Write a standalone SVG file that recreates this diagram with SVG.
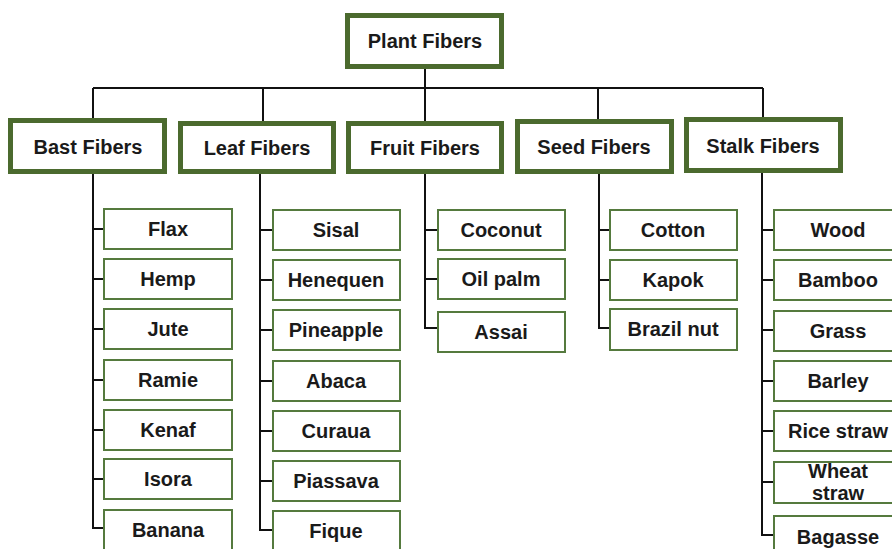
<svg xmlns="http://www.w3.org/2000/svg" width="892" height="549" viewBox="0 0 892 549">
<style>
.cat{fill:#fff;stroke:#4B6A2E;stroke-width:5}
.leaf{fill:#fff;stroke:#557A3E;stroke-width:2}
text{font-family:"Liberation Sans",Arial,sans-serif;font-weight:bold;font-size:20px;fill:#1a1a1a;text-anchor:middle}
.ln{fill:none;stroke:#111;stroke-width:2}
</style>
<rect width="892" height="549" fill="#fff"/>
<g id="connectors" class="ln">
<path d="M93,88H763M425,69V121M93,88V118M263,88V121M598,88V119M763,88V117"/>
<path d="M93,174V528H103M93,229H103M93,279H103M93,329H103M93,380H103M93,430H103M93,479H103"/>
<path d="M260,174V530H272M260,230H272M260,280H272M260,330H272M260,381H272M260,431H272M260,481H272"/>
<path d="M425,174V328H437M425,230H437M425,279H437"/>
<path d="M599,174V328H609M599,230H609M599,280H609"/>
<path d="M762,173V535H773M762,230H773M762,280H773M762,330H773M762,381H773M762,431H773M762,482H773"/>
</g>
<g id="plant"><rect class="cat" x="347.5" y="15.5" width="154" height="51"/><text x="425" y="48">Plant Fibers</text></g>
<g id="bast"><rect class="cat" x="10.5" y="120.5" width="154" height="51"/><text x="88" y="154">Bast Fibers</text></g>
<g id="leafcat"><rect class="cat" x="180.5" y="123.5" width="153" height="48"/><text x="257" y="155">Leaf Fibers</text></g>
<g id="fruit"><rect class="cat" x="348.5" y="123.5" width="153" height="48"/><text x="425" y="155">Fruit Fibers</text></g>
<g id="seed"><rect class="cat" x="517.5" y="121.5" width="154" height="50"/><text x="594" y="154">Seed Fibers</text></g>
<g id="stalk"><rect class="cat" x="686.5" y="119.5" width="154" height="51"/><text x="763" y="153">Stalk Fibers</text></g>

<g id="flax"><rect class="leaf" x="104" y="209" width="128" height="40"/><text x="168" y="236">Flax</text></g>
<g id="hemp"><rect class="leaf" x="104" y="259" width="128" height="40"/><text x="168" y="286">Hemp</text></g>
<g id="jute"><rect class="leaf" x="104" y="309" width="128" height="40"/><text x="168" y="336">Jute</text></g>
<g id="ramie"><rect class="leaf" x="104" y="360" width="128" height="40"/><text x="168" y="387">Ramie</text></g>
<g id="kenaf"><rect class="leaf" x="104" y="410" width="128" height="40"/><text x="168" y="437">Kenaf</text></g>
<g id="isora"><rect class="leaf" x="104" y="459" width="128" height="40"/><text x="168" y="486">Isora</text></g>
<g id="banana"><rect class="leaf" x="104" y="510" width="128" height="42"/><text x="168" y="537">Banana</text></g>

<g id="sisal"><rect class="leaf" x="273" y="210" width="127" height="40"/><text x="336" y="237">Sisal</text></g>
<g id="henequen"><rect class="leaf" x="273" y="260" width="127" height="40"/><text x="336" y="287">Henequen</text></g>
<g id="pineapple"><rect class="leaf" x="273" y="310" width="127" height="40"/><text x="336" y="337">Pineapple</text></g>
<g id="abaca"><rect class="leaf" x="273" y="361" width="127" height="40"/><text x="336" y="388">Abaca</text></g>
<g id="curaua"><rect class="leaf" x="273" y="411" width="127" height="40"/><text x="336" y="438">Curaua</text></g>
<g id="piassava"><rect class="leaf" x="273" y="461" width="127" height="40"/><text x="336" y="488">Piassava</text></g>
<g id="fique"><rect class="leaf" x="273" y="511" width="127" height="42"/><text x="336" y="538">Fique</text></g>

<g id="coconut"><rect class="leaf" x="438" y="210" width="127" height="40"/><text x="501" y="237">Coconut</text></g>
<g id="oilpalm"><rect class="leaf" x="438" y="259" width="127" height="40"/><text x="501" y="286">Oil palm</text></g>
<g id="assai"><rect class="leaf" x="438" y="312" width="127" height="40"/><text x="501" y="339">Assai</text></g>

<g id="cotton"><rect class="leaf" x="610" y="210" width="127" height="40"/><text x="673" y="237">Cotton</text></g>
<g id="kapok"><rect class="leaf" x="610" y="260" width="127" height="40"/><text x="673" y="287">Kapok</text></g>
<g id="brazilnut"><rect class="leaf" x="610" y="309" width="127" height="41"/><text x="673" y="336">Brazil nut</text></g>

<g id="wood"><rect class="leaf" x="774" y="210" width="130" height="40"/><text x="838" y="237">Wood</text></g>
<g id="bamboo"><rect class="leaf" x="774" y="260" width="130" height="40"/><text x="838" y="287">Bamboo</text></g>
<g id="grass"><rect class="leaf" x="774" y="311" width="130" height="40"/><text x="838" y="338">Grass</text></g>
<g id="barley"><rect class="leaf" x="774" y="361" width="130" height="40"/><text x="838" y="388">Barley</text></g>
<g id="ricestraw"><rect class="leaf" x="774" y="411" width="130" height="40"/><text x="838" y="438">Rice straw</text></g>
<g id="wheatstraw"><rect class="leaf" x="774" y="462" width="130" height="41"/><text x="838" y="478">Wheat</text><text x="838" y="500">straw</text></g>
<g id="bagasse"><rect class="leaf" x="774" y="516" width="130" height="40"/><text x="838" y="544">Bagasse</text></g>
</svg>
